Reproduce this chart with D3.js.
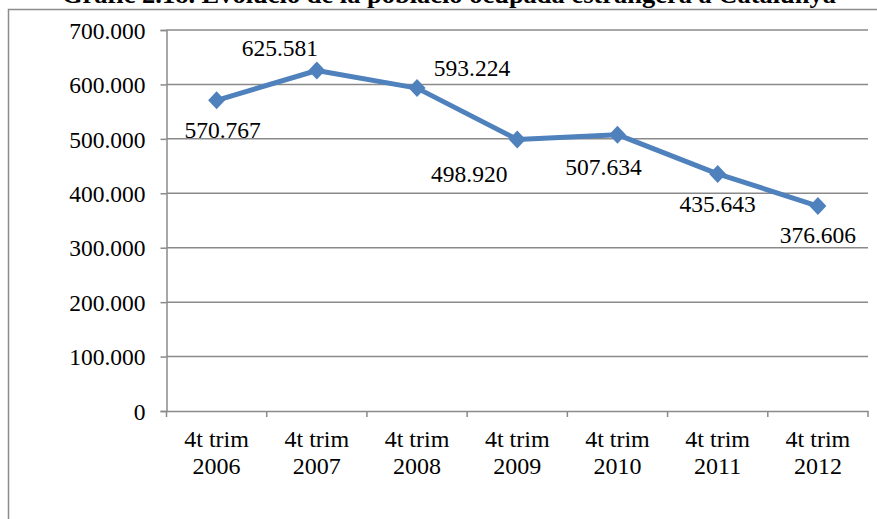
<!DOCTYPE html>
<html><head><meta charset="utf-8">
<script src="https://cdn.jsdelivr.net/npm/d3@7"></script>
<style>body{margin:0;background:#fff}svg{display:block}text{font-family:"Liberation Serif","Times New Roman",serif;fill:#000}</style>
</head><body><svg id="c" width="877" height="519"></svg>
<script>
const title = "Gràfic 2.18. Evolució de la població ocupada estrangera a Catalunya";
const categories = ["4t trim 2006","4t trim 2007","4t trim 2008","4t trim 2009","4t trim 2010","4t trim 2011","4t trim 2012"];
const values = [570767, 625581, 593224, 498920, 507634, 435643, 376606];
const valueLabels = ["570.767","625.581","593.224","498.920","507.634","435.643","376.606"];
const yTicks = [0,100000,200000,300000,400000,500000,600000,700000];
const yTickLabels = ["0","100.000","200.000","300.000","400.000","500.000","600.000","700.000"];
// layout: label offsets relative to point (dx center, dy baseline)
const labelOffsets = [[6,38],[-37,-15],[55,-12],[-48,43],[-14,40],[0,38],[0,37]];

const svg = d3.select("#c");
const L=166.5, R=868, T=30, B=411;
const x = d3.scaleBand().domain(categories).range([L,R]);
const y = d3.scaleLinear().domain([0,700000]).range([B,T]);
const grid="#8a8a8a";
const fs=23.5;

// frame
svg.append("path").attr("d",`M8.5,519 V9.5 H877`).attr("fill","none").attr("stroke","#8c8c8c").attr("stroke-width",1.5);
svg.append("text").attr("x",449).attr("y",3).attr("text-anchor","middle").attr("font-weight","bold").attr("font-size",25)
  .attr("textLength",774).attr("lengthAdjust","spacingAndGlyphs").text(title);

// gridlines
svg.append("g").selectAll("line").data(yTicks.slice(1)).join("line")
  .attr("x1",L).attr("x2",R).attr("y1",d=>y(d)).attr("y2",d=>y(d)).attr("stroke",grid).attr("stroke-width",1.5);

// y axis
const ya = svg.append("g").attr("transform",`translate(${L},0)`)
  .call(d3.axisLeft(y).tickValues(yTicks).tickSize(6).tickPadding(15).tickFormat((d,i)=>yTickLabels[i]));
ya.select(".domain").attr("stroke",grid).attr("stroke-width",1.5);
ya.selectAll(".tick line").attr("stroke",grid).attr("stroke-width",1.5);
ya.selectAll(".tick text").attr("font-size",fs).attr("font-family","Liberation Serif").attr("dy","0.35em");

// x axis
const xa = svg.append("g").attr("transform",`translate(0,${B})`)
  .call(d3.axisBottom(x).tickSize(0).tickFormat(""));
xa.select(".domain").attr("stroke",grid).attr("stroke-width",1.5);
const bounds = categories.map(c=>x(c)).concat([R]);
xa.selectAll(".bt").data(bounds).join("line").attr("class","bt")
  .attr("x1",d=>d).attr("x2",d=>d).attr("y1",0).attr("y2",6).attr("stroke",grid).attr("stroke-width",1.5);
const cl = svg.append("g").selectAll("text").data(categories).join("text")
  .attr("text-anchor","middle").attr("font-size",24)
  .attr("x",d=>x(d)+x.bandwidth()/2);
cl.append("tspan").attr("x",d=>x(d)+x.bandwidth()/2).attr("y",447).text(d=>d.split(" ").slice(0,2).join(" "));
cl.append("tspan").attr("x",d=>x(d)+x.bandwidth()/2).attr("y",474).text(d=>d.split(" ")[2]);

// line
const cx = (d,i)=>x(categories[i])+x.bandwidth()/2;
svg.append("path").datum(values)
  .attr("d",d3.line().x(cx).y(d=>y(d)))
  .attr("fill","none").attr("stroke","#4F81BD").attr("stroke-width",5).attr("stroke-linejoin","round");
svg.append("g").selectAll("path").data(values).join("path")
  .attr("transform",(d,i)=>`translate(${cx(d,i)},${y(d)})`)
  .attr("d","M0,-9L8.5,0L0,9L-8.5,0Z").attr("fill","#4F81BD");

// labels
svg.append("g").selectAll("text").data(values).join("text")
  .attr("text-anchor","middle").attr("font-size",fs)
  .attr("x",(d,i)=>cx(d,i)+labelOffsets[i][0])
  .attr("y",(d,i)=>y(d)+labelOffsets[i][1])
  .text((d,i)=>valueLabels[i]);
</script></body></html>
